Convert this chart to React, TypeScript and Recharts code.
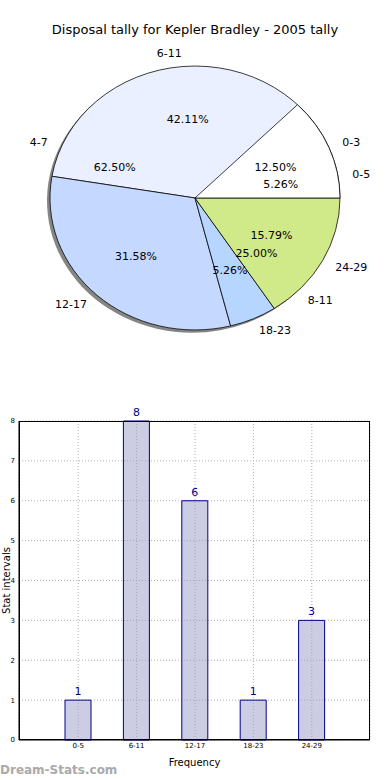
import { PieChart, Pie, Cell, BarChart, Bar, XAxis, YAxis, CartesianGrid, LabelList } from 'recharts';

const intervals = ['0-5', '6-11', '12-17', '18-23', '24-29'];
const intervalCounts = [1, 8, 6, 1, 3];
const tallyGroups = ['0-3', '4-7', '8-11'];
const tallyCounts = [1, 5, 2];
const yTicks = [0, 1, 2, 3, 4, 5, 6, 7, 8];

const intervalColors = ['#ffffff', '#eaf0ff', '#c5d8ff', '#b6d6ff', '#d0ea8a'];
const tallyFills = ['#ffffff', 'none', 'none'];
const tallyStrokes = ['#000', 'none', 'none'];

const intervalData = intervals.map((name, i) => ({ name, value: intervalCounts[i] }));
const tallyData = tallyGroups.map((name, i) => ({ name, value: tallyCounts[i] }));
const barData = intervals.map((name, i) => ({ name, value: intervalCounts[i] }));

const FONT = '"DejaVu Sans", sans-serif';
const SQUASH = 0.91;
const RAD = Math.PI / 180;

function pieLabel(props: any) {
    const { cx, cy, midAngle, outerRadius, percent, name } = props;
    const cos = Math.cos(-midAngle * RAD);
    const sin = Math.sin(-midAngle * RAD);
    const nx = cx + outerRadius * 1.1 * cos;
    const ny = cy + outerRadius * 1.1 * sin;
    const px = cx + outerRadius * 0.6 * cos;
    const py = cy + outerRadius * 0.6 * sin;
    const unsquash = `scale(1,${1 / SQUASH})`;
    return (
        <g>
            <g transform={`translate(${nx},${ny}) ${unsquash}`}>
                <text x={0} y={0} textAnchor={cos > 0 ? 'start' : 'end'} dominantBaseline="central" fontSize={11} fill="#000" fontFamily={FONT}>
                    {name}
                </text>
            </g>
            <g transform={`translate(${px},${py}) ${unsquash}`}>
                <text x={0} y={0} textAnchor="middle" dominantBaseline="central" fontSize={11} fill="#000" fontFamily={FONT}>
                    {(percent * 100).toFixed(2)}%
                </text>
            </g>
        </g>
    );
}

export default function App() {
    // chart margin of 5px is added by recharts to numeric cx/cy
    const cx = 190;
    const cy = 198 / SQUASH - 5;
    return (
        <div style={{ position: 'absolute', left: 0, top: 0, width: 390, height: 780, background: '#fff', fontFamily: FONT, overflow: 'hidden' }}>
            <div style={{ position: 'absolute', left: 0, top: 0, width: 390, height: 380, transform: `scale(1,${SQUASH})`, transformOrigin: '0 0' }}>
                <PieChart width={390} height={380}>
                    {/* drop shadow */}
                    <Pie data={tallyData} dataKey="value" cx={cx - 3} cy={cy + 3} outerRadius={145} startAngle={0} endAngle={360} stroke="none" fill="#858585" isAnimationActive={false} />
                    <Pie data={intervalData} dataKey="value" cx={cx} cy={cy} outerRadius={145} startAngle={0} endAngle={360} stroke="#000" strokeWidth={0.8} label={pieLabel} labelLine={false} isAnimationActive={false}>
                        {intervalData.map((d, i) => (
                            <Cell key={d.name} fill={intervalColors[i]} />
                        ))}
                    </Pie>
                    <Pie data={tallyData} dataKey="value" cx={cx} cy={cy} outerRadius={145} startAngle={0} endAngle={360} strokeWidth={0.8} label={pieLabel} labelLine={false} isAnimationActive={false}>
                        {tallyData.map((d, i) => (
                            <Cell key={d.name} fill={tallyFills[i]} stroke={tallyStrokes[i]} />
                        ))}
                    </Pie>
                </PieChart>
            </div>
            <div style={{ position: 'absolute', left: 0, top: 22, width: 390, textAlign: 'center', fontSize: 13, lineHeight: '16px', color: '#000' }}>
                Disposal tally for Kepler Bradley - 2005 tally
            </div>

            <div style={{ position: 'absolute', left: 0, top: 400, width: 390, height: 380 }}>
                <BarChart width={390} height={380} data={barData} margin={{ top: 21, right: 20, left: 0, bottom: 0 }}>
                    <CartesianGrid strokeDasharray="1 2" stroke="#b0b0b0" />
                    <XAxis
                        dataKey="name"
                        height={40}
                        padding={{ left: 30, right: 29 }}
                        tickLine={false}
                        tickSize={0}
                        tickMargin={3}
                        stroke="#000"
                        tick={{ fontSize: 7, fill: '#000', fontFamily: FONT }}
                        label={{ value: 'Frequency', position: 'insideBottom', offset: 14, fontSize: 10, fill: '#000', fontFamily: FONT }}
                    />
                    <YAxis
                        width={19}
                        domain={[0, 8]}
                        ticks={yTicks}
                        interval={0}
                        tickLine={false}
                        tickSize={2}
                        stroke="#000"
                        tick={{ fontSize: 7, fill: '#000', fontFamily: FONT }}
                        label={{
                            content: (p: any) => {
                                const vb = p.viewBox || { y: 21, height: 319 };
                                const y = vb.y + vb.height / 2;
                                return (
                                    <text x={6} y={y} transform={`rotate(-90,6,${y})`} textAnchor="middle" dominantBaseline="central" fontSize={10} fill="#000" fontFamily={FONT}>
                                        Stat intervals
                                    </text>
                                );
                            },
                        }}
                    />
                    <Bar dataKey="value" barSize={26} fill="#9999c6" fillOpacity={0.5} stroke="#00008b" strokeWidth={1} isAnimationActive={false}>
                        <LabelList dataKey="value" position="top" offset={5} fill="#00008b" fontSize={11} fontFamily={FONT} />
                    </Bar>
                </BarChart>
                <div style={{ position: 'absolute', left: 19, top: 21, width: 351, height: 319, border: '1px solid #000', boxSizing: 'border-box', pointerEvents: 'none' }} />
            </div>

            <div style={{ position: 'absolute', left: 0, top: 763, fontSize: 12, lineHeight: '14px', fontWeight: 'bold', color: '#aaaaaa' }}>
                Dream-Stats.com
            </div>
        </div>
    );
}
